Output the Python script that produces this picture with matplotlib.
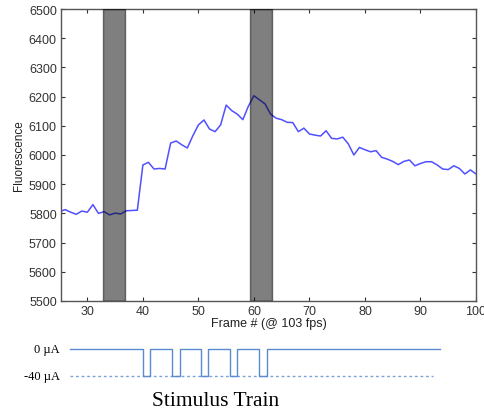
import matplotlib.pyplot as plt
from matplotlib import transforms

# fluorescence trace, one value per frame
frames = list(range(25, 101))
fluorescence = [5806, 5813, 5804, 5797, 5808, 5804, 5830, 5800, 5806, 5795,
                5801, 5798, 5809, 5810, 5811, 5966, 5975, 5952, 5954, 5952,
                6041, 6048, 6035, 6024, 6066, 6103, 6120, 6089, 6080, 6103,
                6171, 6152, 6140, 6121, 6167, 6203, 6189, 6175, 6140, 6126,
                6121, 6112, 6111, 6080, 6092, 6072, 6068, 6065, 6083, 6057,
                6055, 6061, 6038, 6000, 6026, 6018, 6011, 6015, 5992, 5986,
                5978, 5967, 5978, 5983, 5963, 5971, 5977, 5977, 5966, 5952,
                5950, 5963, 5954, 5935, 5949, 5935]

# shaded analysis windows (frame ranges)
windows = [(32.9, 36.8), (59.3, 63.3)]

# stimulus train (frames), amplitude in uA
train_start, train_end = 26.9, 93.5
baseline_end = 92.2
pulse_starts = [40.0, 45.3, 50.5, 55.7, 61.0]
pulse_width = 1.3
pulse_amp = -40

xticks = [30, 40, 50, 60, 70, 80, 90, 100]
yticks = list(range(5500, 6501, 100))

W, H = 484, 414
fig = plt.figure(figsize=(W / 100, H / 100), dpi=100)
ax = fig.add_axes([61 / W, 1 - 302 / H, (476 - 61) / W, (302 - 10) / H])

ax.plot(frames, fluorescence, color='#5050ff', lw=1.1, zorder=2)
for a, b in windows:
    ax.axvspan(a, b, facecolor='black', alpha=0.5, edgecolor='black', lw=1.0, zorder=3)

ax.set_xlim(25.25, 100)
ax.set_ylim(5500, 6500)
ax.set_xticks(xticks)
ax.set_yticks(yticks)
ax.tick_params(direction='in', top=True, right=True, length=3, width=0.8,
               labelsize=9, colors='#333333', pad=3)
for lbl in ax.get_xticklabels() + ax.get_yticklabels():
    lbl.set_family('Liberation Sans')
for s in ax.spines.values():
    s.set_color('#555555')
    s.set_linewidth(1.0)
ax.set_xlabel('Frame # (@ 103 fps)', fontsize=9, family='Liberation Sans', labelpad=0, color='#222222')
ax.set_ylabel('Fluorescence', fontsize=8.5, family='Liberation Sans', labelpad=3, color='#222222')

# stimulus panel
ax2 = fig.add_axes([61 / W, 1 - 382.4 / H, (476 - 61) / W, 37.8 / H])
ax2.set_xlim(25.25, 100)
ax2.set_ylim(-48, 8)
ax2.axis('off')

sx = [train_start]
sy = [0]
for p in pulse_starts:
    sx += [p, p, p + pulse_width, p + pulse_width]
    sy += [0, pulse_amp, pulse_amp, 0]
sx.append(train_end)
sy.append(0)
ax2.plot(sx, sy, color='#5b8bd0', lw=1.0)
ax2.plot([train_start, baseline_end], [pulse_amp, pulse_amp], color='#5b8bd0',
         lw=1.0, ls=(0, (2, 2)), alpha=0.8)

tr = transforms.blended_transform_factory(fig.transFigure, ax2.transData)
ax2.text(60 / W, 0, '0 µA', transform=tr, ha='right', va='center',
         fontsize=9, family='Liberation Serif')
ax2.text(60 / W, pulse_amp, '-40 µA', transform=tr, ha='right', va='center',
         fontsize=9, family='Liberation Serif')

fig.text(216 / W, 1 - 402 / H, 'Stimulus Train', ha='center', va='center',
         fontsize=15.5, family='Liberation Serif')

fig.savefig('out.png', dpi=100)
